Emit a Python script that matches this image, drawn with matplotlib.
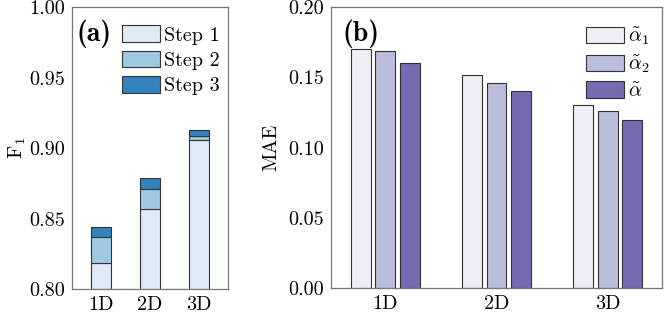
import numpy as np
import matplotlib
matplotlib.use('agg')
import matplotlib.pyplot as plt
from matplotlib.ticker import FormatStrFormatter

plt.rcParams['font.family'] = ['cmr10', 'DejaVu Serif']
plt.rcParams['mathtext.fontset'] = 'cm'
plt.rcParams['axes.formatter.use_mathtext'] = True
plt.rcParams['font.size'] = 14.5

dims = ['1D', '2D', '3D']

# panel (a): F1 after each step (cumulative tops)
step1 = [0.819, 0.857, 0.906]
step2 = [0.837, 0.871, 0.909]
step3 = [0.844, 0.879, 0.913]
step_labels = ['Step 1', 'Step 2', 'Step 3']

# panel (b): MAE
mae_a1 = [0.170, 0.1515, 0.1304]
mae_a2 = [0.1689, 0.1458, 0.1264]
mae_a = [0.1605, 0.1404, 0.1197]
mae_labels = [r'$\tilde{\alpha}_1$', r'$\tilde{\alpha}_2$', r'$\tilde{\alpha}$']

blues = ['#deebf7', '#9ecae1', '#3182bd']
purples = ['#efedf5', '#bcbddc', '#756bb1']
edge = '#333333'
spine_c = '#777777'

fig = plt.figure(figsize=(6.64, 3.14), dpi=100)
ax1 = fig.add_axes([72/664, 1-289.3/314, 156/664, 282/314])
ax2 = fig.add_axes([331/664, 1-288/314, 331/664, 280.7/314])

x = np.arange(len(dims))
w = 0.4
base = 0.80
s1 = np.array(step1); s2 = np.array(step2); s3 = np.array(step3)
ax1.bar(x, s1 - base, w, bottom=base, color=blues[0], edgecolor=edge, lw=0.8, label=step_labels[0])
ax1.bar(x, s2 - s1, w, bottom=s1, color=blues[1], edgecolor=edge, lw=0.8, label=step_labels[1])
ax1.bar(x, s3 - s2, w, bottom=s2, color=blues[2], edgecolor=edge, lw=0.8, label=step_labels[2])
# empty slots between groups
ax1.bar(x[:-1] + 0.5, np.zeros(len(dims) - 1), w, bottom=base, color='none', edgecolor=edge, lw=0.8)
ax1.set_ylim(0.80, 1.00)
ax1.set_xlim(-0.58, 2.58)
ax1.set_yticks([0.80, 0.85, 0.90, 0.95, 1.00])
ax1.yaxis.set_major_formatter(FormatStrFormatter('%.2f'))
ax1.set_xticks(x)
ax1.set_xticklabels(dims)
ax1.set_ylabel(r'F$_1$', labelpad=1)
ax1.text(0.03, 0.955, '(a)', family='cmb10', transform=ax1.transAxes, fontsize=20, va='top', ha='left')
ax1.legend(loc='upper right', bbox_to_anchor=(1.0, 0.965), frameon=False, handlelength=1.9,
           handleheight=0.9, handletextpad=0.2, labelspacing=0.3, borderaxespad=0.2, borderpad=0.2)

wb = 0.18
off = 0.222
ax2.bar(x - off, mae_a1, wb, color=purples[0], edgecolor=edge, lw=0.8, label=mae_labels[0])
ax2.bar(x, mae_a2, wb, color=purples[1], edgecolor=edge, lw=0.8, label=mae_labels[1])
ax2.bar(x + off, mae_a, wb, color=purples[2], edgecolor=edge, lw=0.8, label=mae_labels[2])
ax2.set_ylim(0, 0.20)
ax2.set_xlim(-0.49, 2.49)
ax2.set_yticks([0.00, 0.05, 0.10, 0.15, 0.20])
ax2.yaxis.set_major_formatter(FormatStrFormatter('%.2f'))
ax2.set_xticks(x)
ax2.set_xticklabels(dims)
ax2.set_ylabel('MAE', labelpad=6)
ax2.text(0.035, 0.955, '(b)', family='cmb10', transform=ax2.transAxes, fontsize=20, va='top', ha='left')
ax2.legend(loc='upper right', bbox_to_anchor=(0.988, 0.964), frameon=False, handlelength=1.9,
           handleheight=0.9, handletextpad=0.2, labelspacing=0.3, borderaxespad=0.2, borderpad=0.2)

for ax in (ax1, ax2):
    ax.tick_params(length=0, pad=5)
    for sp in ax.spines.values():
        sp.set_color(spine_c)
        sp.set_linewidth(0.9)

fig.savefig('out.png', dpi=100)
